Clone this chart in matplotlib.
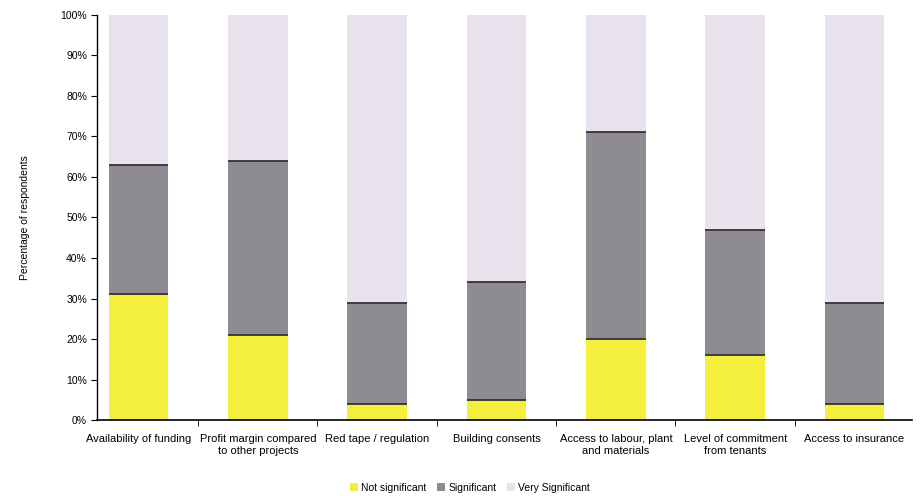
import matplotlib
matplotlib.use("Agg")
import matplotlib.pyplot as plt
import numpy as np

categories = [
    "Availability of funding",
    "Profit margin compared\nto other projects",
    "Red tape / regulation",
    "Building consents",
    "Access to labour, plant\nand materials",
    "Level of commitment\nfrom tenants",
    "Access to insurance",
]
not_significant = [31, 21, 4, 5, 20, 16, 4]
significant = [32, 43, 25, 29, 51, 31, 25]
very_significant = [37, 36, 71, 66, 29, 53, 71]
y_ticks = [0, 10, 20, 30, 40, 50, 60, 70, 80, 90, 100]

plt.rcParams["font.family"] = ["Liberation Sans", "DejaVu Sans"]

fig = plt.figure(figsize=(9.21, 4.96), dpi=100)
ax = fig.add_axes([0.105, 0.153, 0.885, 0.817])

x = np.arange(len(categories))
w = 0.5
ns = np.array(not_significant)
sg = np.array(significant)
vs = np.array(very_significant)

ax.bar(x, ns, w, color="#f4ee3c", edgecolor="none", label="Not significant")
ax.bar(x, sg, w, bottom=ns, color="#8f8b93", edgecolor="none",
       label="Significant")
ax.bar(x, vs, w, bottom=ns + sg, color="#e8e2ec", edgecolor="none",
       label="Very Significant")

# dark boundary lines between stacked segments
ax.hlines(ns, x - w / 2, x + w / 2, color="#35303a", linewidth=1.3, zorder=3)
ax.hlines(ns + sg, x - w / 2, x + w / 2, color="#35303a", linewidth=1.3, zorder=3)

ax.set_ylim(0, 100)
ax.set_xlim(-0.35, 6.48)
ax.set_yticks(y_ticks)
ax.set_yticklabels([f"{v}%" for v in y_ticks], fontsize=7.5)
ax.set_xticks(x)
ax.set_xticklabels(categories, fontsize=8, linespacing=1.25)
ax.set_xticks(np.arange(len(categories) - 1) + 0.5, minor=True)
ax.tick_params(axis="x", which="major", length=0, pad=10)
ax.tick_params(axis="x", which="minor", length=4, direction="out")
ax.tick_params(axis="y", length=4, direction="out", pad=3)
ax.set_ylabel("Percentage of respondents", fontsize=7.5, labelpad=22)

for s in ["top", "right"]:
    ax.spines[s].set_visible(False)
ax.spines["left"].set_linewidth(1.0)
ax.spines["bottom"].set_linewidth(1.2)

fig.legend(loc="lower center", bbox_to_anchor=(0.51, -0.012), ncol=3,
           frameon=False, fontsize=7.5, handlelength=0.8, handleheight=0.8,
           handletextpad=0.3, columnspacing=1.0)

fig.savefig("out.png", dpi=100, facecolor="white")
